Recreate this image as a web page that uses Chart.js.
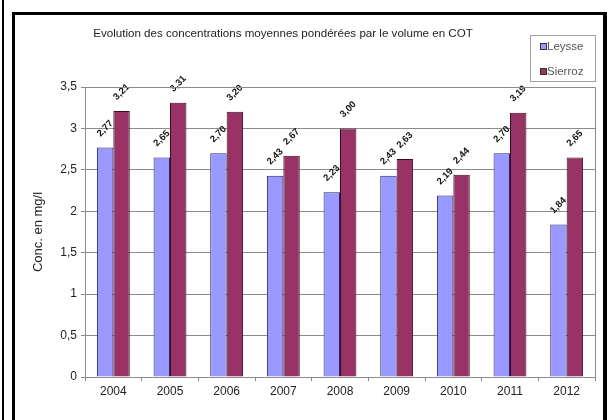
<!DOCTYPE html>
<html>
<head>
<meta charset="utf-8">
<script src="https://cdn.jsdelivr.net/npm/chart.js@4/dist/chart.umd.min.js"></script>
<style>
  html, body { margin: 0; padding: 0; background: #fff; }
  #wrap { width: 607px; height: 420px; }
</style>
</head>
<body>
<div id="wrap"><canvas id="cotChart" width="607" height="420"></canvas></div>
<script>
// data
const years = ['2004', '2005', '2006', '2007', '2008', '2009', '2010', '2011', '2012'];
const leysse = [2.77, 2.65, 2.70, 2.43, 2.23, 2.43, 2.19, 2.70, 1.84];
const sierroz = [3.21, 3.31, 3.20, 2.67, 3.00, 2.63, 2.44, 3.19, 2.65];
const seriesNames = ['Leysse', 'Sierroz'];
const yMin = 0, yMax = 3.5, yStep = 0.5;
const chartTitle = 'Evolution des concentrations moyennes pondérées par le volume en COT';
const yTitle = 'Conc. en mg/l';

const FONT = "'Liberation Sans', Arial, sans-serif";
Chart.defaults.font.family = FONT;
Chart.defaults.color = '#222';

const comma = v => String(v).replace('.', ',');

// outer frame, title, legend box, plot border
const decor = {
    id: 'decor',
    beforeDraw(c) {
        const ctx = c.ctx;
        ctx.save();
        ctx.fillStyle = '#fff';
        ctx.fillRect(0, 0, c.width, c.height);
        ctx.fillStyle = '#000';
        ctx.fillRect(2, 0, 2, 420);
        ctx.fillRect(12, 12, 3, 408);
        ctx.fillRect(12, 12, 595, 3);
        ctx.fillRect(603, 12, 4, 408);
        ctx.restore();
    },
    afterDraw(c) {
        const ctx = c.ctx;
        const a = c.chartArea;
        ctx.save();
        // plot area right/top border
        ctx.strokeStyle = '#8c8c8c';
        ctx.lineWidth = 1;
        ctx.beginPath();
        ctx.moveTo(a.left, Math.round(a.top) + 0.5);
        ctx.lineTo(Math.round(a.right) + 0.5, Math.round(a.top) + 0.5);
        ctx.lineTo(Math.round(a.right) + 0.5, a.bottom);
        ctx.stroke();

        // title
        ctx.fillStyle = '#222';
        ctx.font = '11.6px ' + FONT;
        ctx.textAlign = 'center';
        ctx.textBaseline = 'middle';
        ctx.fillText(chartTitle, 283, 34);

        // legend
        ctx.strokeStyle = '#a0a0a0';
        ctx.strokeRect(530.5, 35.5, 65, 46);
        ctx.font = '11.5px ' + FONT;
        ctx.textAlign = 'left';
        c.data.datasets.forEach((ds, i) => {
            const y = 47 + i * 25;
            ctx.fillStyle = ds.backgroundColor;
            ctx.fillRect(541, y - 3, 5, 5);
            ctx.strokeStyle = '#333';
            ctx.strokeRect(540.5, y - 3.5, 6, 6);
            ctx.fillStyle = '#555';
            ctx.fillText(ds.label, 547, y);
        });
        ctx.restore();
    },
    afterDatasetsDraw(c) {
        // rotated value labels above bars
        const ctx = c.ctx;
        ctx.save();
        ctx.font = 'bold 9.5px ' + FONT;
        ctx.fillStyle = '#111';
        ctx.textAlign = 'center';
        ctx.textBaseline = 'middle';
        c.data.datasets.forEach((ds, i) => {
            c.getDatasetMeta(i).data.forEach((bar, j) => {
                ctx.save();
                ctx.translate(bar.x, bar.y - 19);
                ctx.rotate(-Math.PI / 4);
                ctx.fillText(comma(ds.data[j].toFixed(2)), 0, 0);
                ctx.restore();
            });
        });
        ctx.restore();
    }
};

new Chart(document.getElementById('cotChart'), {
    type: 'bar',
    data: {
        labels: years,
        datasets: [{
            label: seriesNames[0],
            data: leysse,
            backgroundColor: '#9999ff',
            borderColor: '#26266b',
            borderWidth: 1,
            categoryPercentage: 0.58,
            barPercentage: 1
        }, {
            label: seriesNames[1],
            data: sierroz,
            backgroundColor: '#993366',
            borderColor: '#3a0c22',
            borderWidth: 1,
            categoryPercentage: 0.58,
            barPercentage: 1
        }]
    },
    options: {
        responsive: false,
        animation: false,
        devicePixelRatio: 1,
        layout: {
            padding: { top: 87, right: 12, left: 28, bottom: 0 }
        },
        plugins: {
            legend: { display: false },
            title: { display: false },
            tooltip: { enabled: false }
        },
        scales: {
            x: {
                afterFit(s) { s.height = 43; },
                grid: {
                    offset: true,
                    drawOnChartArea: false,
                    drawTicks: true,
                    tickLength: 4,
                    color: '#8c8c8c'
                },
                border: { color: '#8c8c8c' },
                ticks: { font: { size: 12 }, color: '#222', padding: 3, maxRotation: 0 }
            },
            y: {
                min: yMin,
                max: yMax,
                afterFit(s) { s.width = 57; },
                grid: { color: '#8c8c8c', tickLength: 4 },
                border: { color: '#8c8c8c' },
                ticks: {
                    stepSize: yStep,
                    font: { size: 12 },
                    color: '#222',
                    padding: 4,
                    callback: v => comma(v)
                },
                title: {
                    display: true,
                    text: yTitle,
                    font: { size: 13 },
                    color: '#222',
                    padding: { top: 3, bottom: 2 }
                }
            }
        }
    },
    plugins: [decor]
});
</script>
</body>
</html>
